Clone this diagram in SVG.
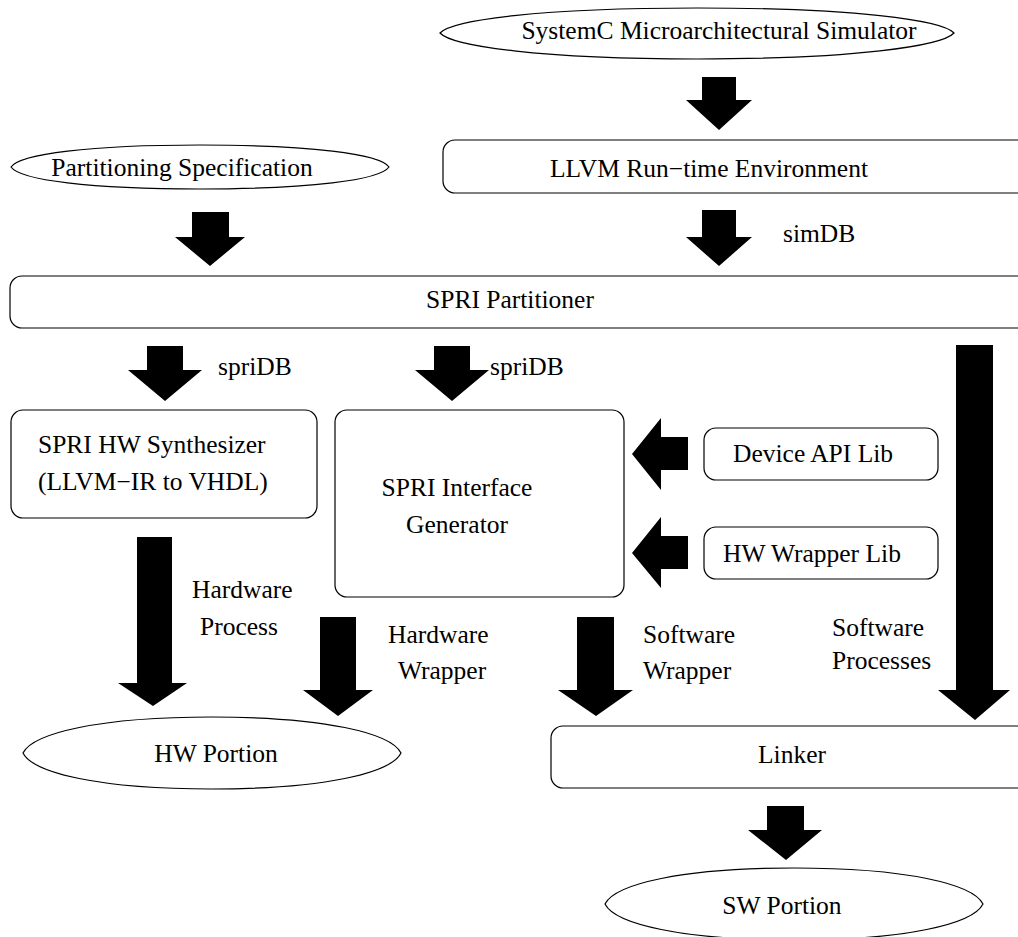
<svg xmlns="http://www.w3.org/2000/svg" width="1018" height="937" viewBox="0 0 1018 937">
<style>
.n{fill:#fff;stroke:#000;stroke-width:1.2}
.t{font-family:"Liberation Serif","Times New Roman",serif;font-size:25.5px;fill:#000}
.c{text-anchor:middle}
.a{fill:#000;stroke:none}
</style>
<rect width="1018" height="937" fill="#fff"/>
<g id="connectors">
<path class="a" d="M702,77H736V100H752L719,130L686,100H702Z"/>
<path class="a" d="M192,212H229V237H245L210,266L175,237H192Z"/>
<path class="a" d="M702,210H736V237H752L719,266L686,237H702Z"/>
<path class="a" d="M147,346H183V370H202L165,401L128,370H147Z"/>
<path class="a" d="M434,346H470V370H489L452,401L415,370H434Z"/>
<path class="a" d="M688,437V470H661V490L632,454L661,418V437Z"/>
<path class="a" d="M688,536V569H661V588L632,553L661,517V536Z"/>
<path class="a" d="M956,345H993V690H1010L975,720L938,690H956Z"/>
<path class="a" d="M137,537H172V683H187L153,706L118,683H137Z"/>
<path class="a" d="M320,617H356V690H373L338,716L303,690H320Z"/>
<path class="a" d="M577,617H614V690H633L596,716L558,690H577Z"/>
<path class="a" d="M767,806H804V830H822L786,860L748,830H767Z"/>
<text class="t" x="783" y="242">simDB</text>
<text class="t" x="218" y="375">spriDB</text>
<text class="t" x="490" y="375">spriDB</text>
<text class="t" x="192" y="598">Hardware</text>
<text class="t" x="200" y="635">Process</text>
<text class="t" x="388" y="643">Hardware</text>
<text class="t" x="398" y="679">Wrapper</text>
<text class="t" x="643" y="643">Software</text>
<text class="t" x="643" y="679">Wrapper</text>
<text class="t" x="832" y="636">Software</text>
<text class="t" x="832" y="669">Processes</text>
</g>
<g id="systemc">
<path class="n" d="M440,33C452,20 540,8 697,8C854,8 942,20 954,33C942,46 854,59 697,59C540,59 452,46 440,33Z"/>
<text class="t c" x="719" y="39">SystemC Microarchitectural Simulator</text>
</g>
<g id="partspec">
<path class="n" d="M11,167C20,154 90,145 200,145C310,145 380,154 389,167C380,180 310,189 200,189C90,189 20,180 11,167Z"/>
<text class="t c" x="182" y="176">Partitioning Specification</text>
</g>
<g id="llvmrt">
<rect class="n" x="443" y="140" width="600" height="53" rx="12"/>
<text class="t c" x="709" y="177">LLVM Run−time Environment</text>
</g>
<g id="partitioner">
<rect class="n" x="10" y="276" width="1030" height="52" rx="12"/>
<text class="t c" x="510" y="308">SPRI Partitioner</text>
</g>
<g id="hwsynth">
<rect class="n" x="11" y="410" width="306" height="108" rx="12"/>
<text class="t" x="38" y="453">SPRI HW Synthesizer</text>
<text class="t" x="38" y="490">(LLVM−IR to VHDL)</text>
</g>
<g id="ifgen">
<rect class="n" x="335" y="410" width="289" height="187" rx="12"/>
<text class="t c" x="457" y="496">SPRI Interface</text>
<text class="t c" x="457" y="533">Generator</text>
</g>
<g id="devapi">
<rect class="n" x="704" y="428" width="234" height="52" rx="12"/>
<text class="t" x="733" y="462">Device API Lib</text>
</g>
<g id="hwwrap">
<rect class="n" x="704" y="527" width="234" height="52" rx="12"/>
<text class="t" x="723" y="562">HW Wrapper Lib</text>
</g>
<g id="hwportion">
<path class="n" d="M23,753C33,733 100,717 212,717C324,717 391,733 401,753C391,773 324,789 212,789C100,789 33,773 23,753Z"/>
<text class="t c" x="216" y="762">HW Portion</text>
</g>
<g id="linker">
<rect class="n" x="551" y="726" width="500" height="62" rx="12"/>
<text class="t c" x="792" y="763">Linker</text>
</g>
<g id="swportion">
<path class="n" d="M605,904C615,884 682,868 794,868C906,868 973,884 983,904C973,924 906,940 794,940C682,940 615,924 605,904Z"/>
<text class="t c" x="782" y="914">SW Portion</text>
</g>
</svg>
